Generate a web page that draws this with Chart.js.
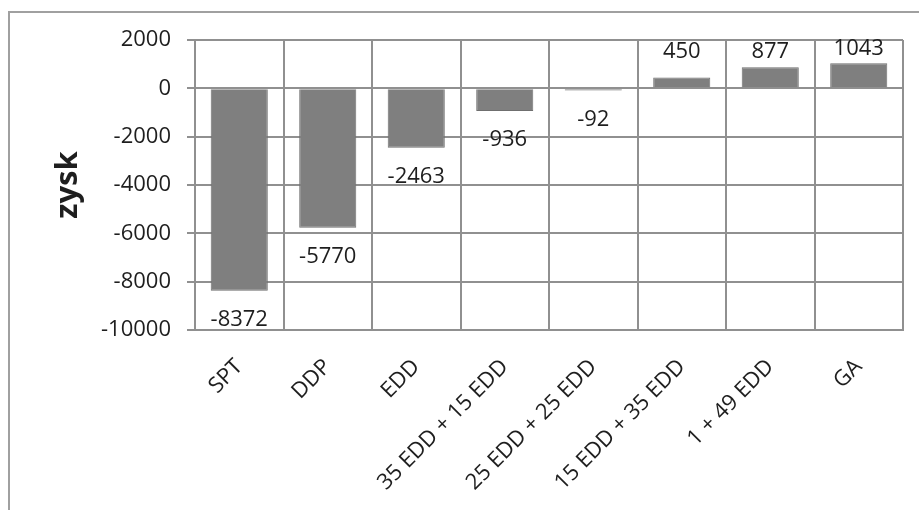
<!DOCTYPE html>
<html>
<head>
<meta charset="utf-8">
<script src="https://cdn.jsdelivr.net/npm/chart.js@4/dist/chart.umd.min.js"></script>
<style>
  html, body { margin: 0; padding: 0; background: #fff; }
  #wrap { position: relative; width: 919px; height: 510px; overflow: hidden; }
  #frame { position: absolute; left: 8px; top: 11px; width: 940px; height: 540px;
           border-left: 2px solid #a0a0a0; border-top: 2px solid #a0a0a0; }
  canvas { position: absolute; left: 0; top: 0; }
</style>
</head>
<body>
<div id="wrap">
  <div id="frame"></div>
  <canvas id="zyskChart" width="919" height="510"></canvas>
</div>
<script>
const categories = ['SPT', 'DDP', 'EDD', '35 EDD + 15 EDD', '25 EDD + 25 EDD', '15 EDD + 35 EDD', '1 + 49 EDD', 'GA'];
const zysk = [-8372, -5770, -2463, -936, -92, 450, 877, 1043];
const yTicks = [2000, 0, -2000, -4000, -6000, -8000, -10000];

const gridColor = '#909090';
const textColor = '#1e1e1e';

// value labels above / below each bar
const barLabels = {
  id: 'barLabels',
  afterDatasetsDraw(chart) {
    const ctx = chart.ctx;
    const meta = chart.getDatasetMeta(0);
    ctx.save();
    ctx.font = '22px "Open Sans"';
    ctx.fillStyle = textColor;
    ctx.textAlign = 'center';
    meta.data.forEach((bar, i) => {
      const v = zysk[i];
      if (v < 0) {
        ctx.textBaseline = 'top';
        ctx.fillText(String(v), bar.x, bar.y + 18);
      } else {
        ctx.textBaseline = 'bottom';
        ctx.fillText(String(v), bar.x, Math.min(bar.y - 3, chart.chartArea.top + 23));
      }
    });
    ctx.restore();
  }
};

const ctx = document.getElementById('zyskChart').getContext('2d');
new Chart(ctx, {
  type: 'bar',
  data: {
    labels: categories,
    datasets: [{
      label: 'zysk',
      data: zysk,
      backgroundColor: '#7f7f7f',
      borderColor: '#6f6f6f',
      borderWidth: 1,
      barPercentage: 0.645,
      categoryPercentage: 1
    }]
  },
  options: {
    responsive: false,
    animation: false,
    devicePixelRatio: 1,
    layout: { padding: { left: 0, right: 16, top: 40, bottom: 0 } },
    plugins: {
      legend: { display: false },
      tooltip: { enabled: false }
    },
    scales: {
      x: {
        grid: { color: gridColor, lineWidth: 2, offset: true, drawTicks: false },
        border: { color: gridColor, width: 2 },
        ticks: {
          color: textColor,
          font: { family: 'Open Sans', size: 22 },
          minRotation: 45,
          maxRotation: 45,
          padding: 24,
          autoSkip: false
        },
        afterFit(scale) { scale.height = 180; }
      },
      y: {
        min: -10000,
        max: 2000,
        afterBuildTicks(scale) { scale.ticks = yTicks.map(v => ({ value: v })); },
        grid: { color: gridColor, lineWidth: 2, tickLength: 8 },
        border: { color: gridColor, width: 2 },
        ticks: {
          color: textColor,
          font: { family: 'Open Sans', size: 22 },
          padding: 16,
          callback: (v) => String(v)
        },
        title: {
          display: true,
          text: 'zysk',
          color: textColor,
          font: { family: 'Open Sans', size: 31, weight: 'bold' },
          padding: { top: 50, bottom: 0 }
        },
        afterFit(scale) { scale.width = 195; }
      }
    }
  },
  plugins: [barLabels]
});
</script>
</body>
</html>
